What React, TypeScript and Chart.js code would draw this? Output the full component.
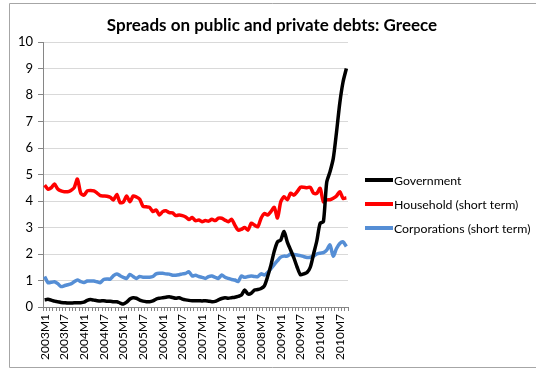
import React, { useEffect, useRef } from 'react';
import { Chart, registerables } from 'chart.js';

Chart.register(...registerables);

const TITLE = 'Spreads on public and private debts: Greece';
const START_YEAR = 2003;
const MONTH_COUNT = 93; // 2003M1 .. 2010M9
const categories: string[] = [];
for (let i = 0; i < MONTH_COUNT; i++) {
  categories.push(`${START_YEAR + Math.floor(i / 12)}M${(i % 12) + 1}`);
}

const government = [
  0.27, 0.29, 0.26, 0.22, 0.2, 0.17, 0.16, 0.15, 0.15, 0.16, 0.16, 0.16,
  0.18, 0.25, 0.28, 0.26, 0.24, 0.23, 0.24, 0.22, 0.22, 0.2, 0.2, 0.15,
  0.11, 0.18, 0.3, 0.35, 0.33, 0.26, 0.22, 0.2, 0.2, 0.23, 0.3, 0.33,
  0.35, 0.37, 0.39, 0.36, 0.33, 0.35, 0.3, 0.27, 0.25, 0.24, 0.24, 0.24,
  0.23, 0.24, 0.22, 0.2, 0.21, 0.27, 0.32, 0.35, 0.33, 0.35, 0.37, 0.4,
  0.45, 0.64, 0.49, 0.52, 0.64, 0.66, 0.7, 0.8, 1.15, 1.58, 2.1, 2.46,
  2.53, 2.85, 2.45, 2.15, 1.85, 1.5, 1.22, 1.25, 1.3, 1.5, 2.0, 2.5,
  3.16, 3.22, 4.7, 5.1, 5.6, 6.6, 7.7, 8.5, 9.0,
];

const household = [
  4.6, 4.45, 4.5, 4.64, 4.45, 4.38, 4.35, 4.35, 4.4, 4.5, 4.83, 4.3,
  4.22, 4.38, 4.4, 4.38, 4.3, 4.2, 4.19, 4.18, 4.14, 4.04, 4.25, 3.94,
  3.96, 4.19, 3.97, 4.19, 4.15, 4.07, 3.8, 3.78, 3.76, 3.6, 3.66, 3.47,
  3.6, 3.63, 3.56, 3.55, 3.45, 3.47, 3.45, 3.4, 3.3, 3.38, 3.26, 3.28,
  3.22, 3.26, 3.24, 3.31, 3.26, 3.35, 3.35, 3.28, 3.22, 3.31, 3.09, 2.9,
  2.93, 3.0, 2.9, 3.16, 3.09, 3.03, 3.35, 3.53, 3.47, 3.6, 3.76, 3.36,
  3.97, 4.16, 4.05, 4.29, 4.22, 4.35, 4.52, 4.52, 4.5, 4.52, 4.29, 4.29,
  4.48, 3.97, 4.04, 4.05, 4.1, 4.19, 4.35, 4.1, 4.12,
];

const corporations = [
  1.15, 0.92, 0.93, 0.95, 0.88, 0.77, 0.8, 0.84, 0.87, 0.95, 1.02, 0.96,
  0.92, 0.98, 0.98, 0.98, 0.95, 0.92, 1.04, 1.06, 1.05, 1.18, 1.25, 1.18,
  1.12, 1.08, 1.23, 1.15, 1.08, 1.15, 1.12, 1.12, 1.12, 1.15, 1.25, 1.27,
  1.27, 1.25, 1.24, 1.2, 1.2, 1.22, 1.25, 1.27, 1.33, 1.17, 1.2, 1.15,
  1.12, 1.08, 1.15, 1.17, 1.12, 1.08, 1.21, 1.12, 1.08, 1.04, 1.02, 0.96,
  1.17, 1.12, 1.15, 1.17, 1.15, 1.15, 1.25, 1.21, 1.3, 1.45, 1.6, 1.75,
  1.88, 1.92, 1.92, 2.0, 1.98, 1.96, 1.94, 1.9, 1.87, 1.88, 1.92, 2.0,
  2.03, 2.05, 2.15, 2.34, 1.92, 2.21, 2.4, 2.46, 2.28,
];

const seriesNames = ['Government', 'Household (short term)', 'Corporations (short term)'];
const seriesColors = ['#000000', '#ff0000', '#558ed5'];
const seriesValues = [government, household, corporations];

const Y_MIN = 0;
const Y_MAX = 10;
const Y_STEP = 1;
const LABEL_EVERY = 6;

const FONT = 'Lato, "Open Sans", sans-serif';

const decorPlugin = {
  id: 'decor',
  afterDraw(chart: any) {
    const ctx = chart.ctx as CanvasRenderingContext2D;
    ctx.save();
    // frame
    ctx.strokeStyle = '#a6a6a6';
    ctx.lineWidth = 1;
    ctx.beginPath();
    ctx.moveTo(536, 3.5);
    ctx.lineTo(9.5, 3.5);
    ctx.lineTo(9.5, 367.5);
    ctx.lineTo(536, 367.5);
    ctx.stroke();

    // title
    ctx.fillStyle = '#000000';
    ctx.font = `bold 17px ${FONT}`;
    ctx.textAlign = 'center';
    ctx.textBaseline = 'middle';
    ctx.fillText(TITLE, 272, 26);

    // legend
    ctx.font = `12.3px ${FONT}`;
    ctx.textAlign = 'left';
    chart.data.datasets.forEach((ds: any, i: number) => {
      const y = 180 + i * 24;
      ctx.strokeStyle = ds.borderColor;
      ctx.lineWidth = 4;
      ctx.beginPath();
      ctx.moveTo(365, y);
      ctx.lineTo(393, y);
      ctx.stroke();
      ctx.fillStyle = '#000000';
      ctx.fillText(ds.label, 394, y + 1);
    });
    ctx.restore();
  },
};

export default function App() {
  const ref = useRef<HTMLCanvasElement | null>(null);
  useEffect(() => {
    if (!ref.current) return;
    const chart = new Chart(ref.current, {
      type: 'line',
      data: {
        labels: categories,
        datasets: seriesValues.map((vals, i) => ({
          label: seriesNames[i],
          data: vals,
          borderColor: seriesColors[i],
          backgroundColor: seriesColors[i],
          borderWidth: 3.5,
          pointRadius: 0,
          tension: 0.25,
          fill: false,
        })),
      },
      options: {
        responsive: false,
        animation: false,
        layout: { padding: { left: 0, top: 42, right: 188, bottom: 0 } },
        plugins: {
          legend: { display: false },
          title: { display: false },
          tooltip: { enabled: false },
        },
        scales: {
          x: {
            type: 'category',
            offset: true,
            grid: {
              offset: true,
              drawOnChartArea: false,
              drawTicks: true,
              tickLength: 4,
              tickColor: '#868686',
            },
            border: { color: '#868686', width: 1 },
            ticks: {
              autoSkip: false,
              maxRotation: 90,
              minRotation: 90,
              padding: 3,
              color: '#000000',
              font: { family: FONT, size: 12 },
              callback: (_v: any, idx: number) => (idx % LABEL_EVERY === 0 ? categories[idx] : ''),
            },
            afterFit: (s: any) => {
              s.height = 65;
            },
          },
          y: {
            min: Y_MIN,
            max: Y_MAX,
            ticks: {
              stepSize: Y_STEP,
              padding: 5,
              color: '#000000',
              font: { family: FONT, size: 13 },
            },
            grid: {
              color: '#d9d9d9',
              tickColor: '#868686',
              tickLength: 5,
              lineWidth: 1,
            },
            border: { color: '#868686', width: 1 },
            afterFit: (s: any) => {
              s.width = 43;
            },
          },
        },
      },
      plugins: [decorPlugin],
    });
    return () => chart.destroy();
  }, []);
  return (
    <div style={{ position: 'absolute', left: 0, top: 0, width: 536, height: 372, background: '#ffffff' }}>
      <canvas ref={ref} width={536} height={372} />
    </div>
  );
}
